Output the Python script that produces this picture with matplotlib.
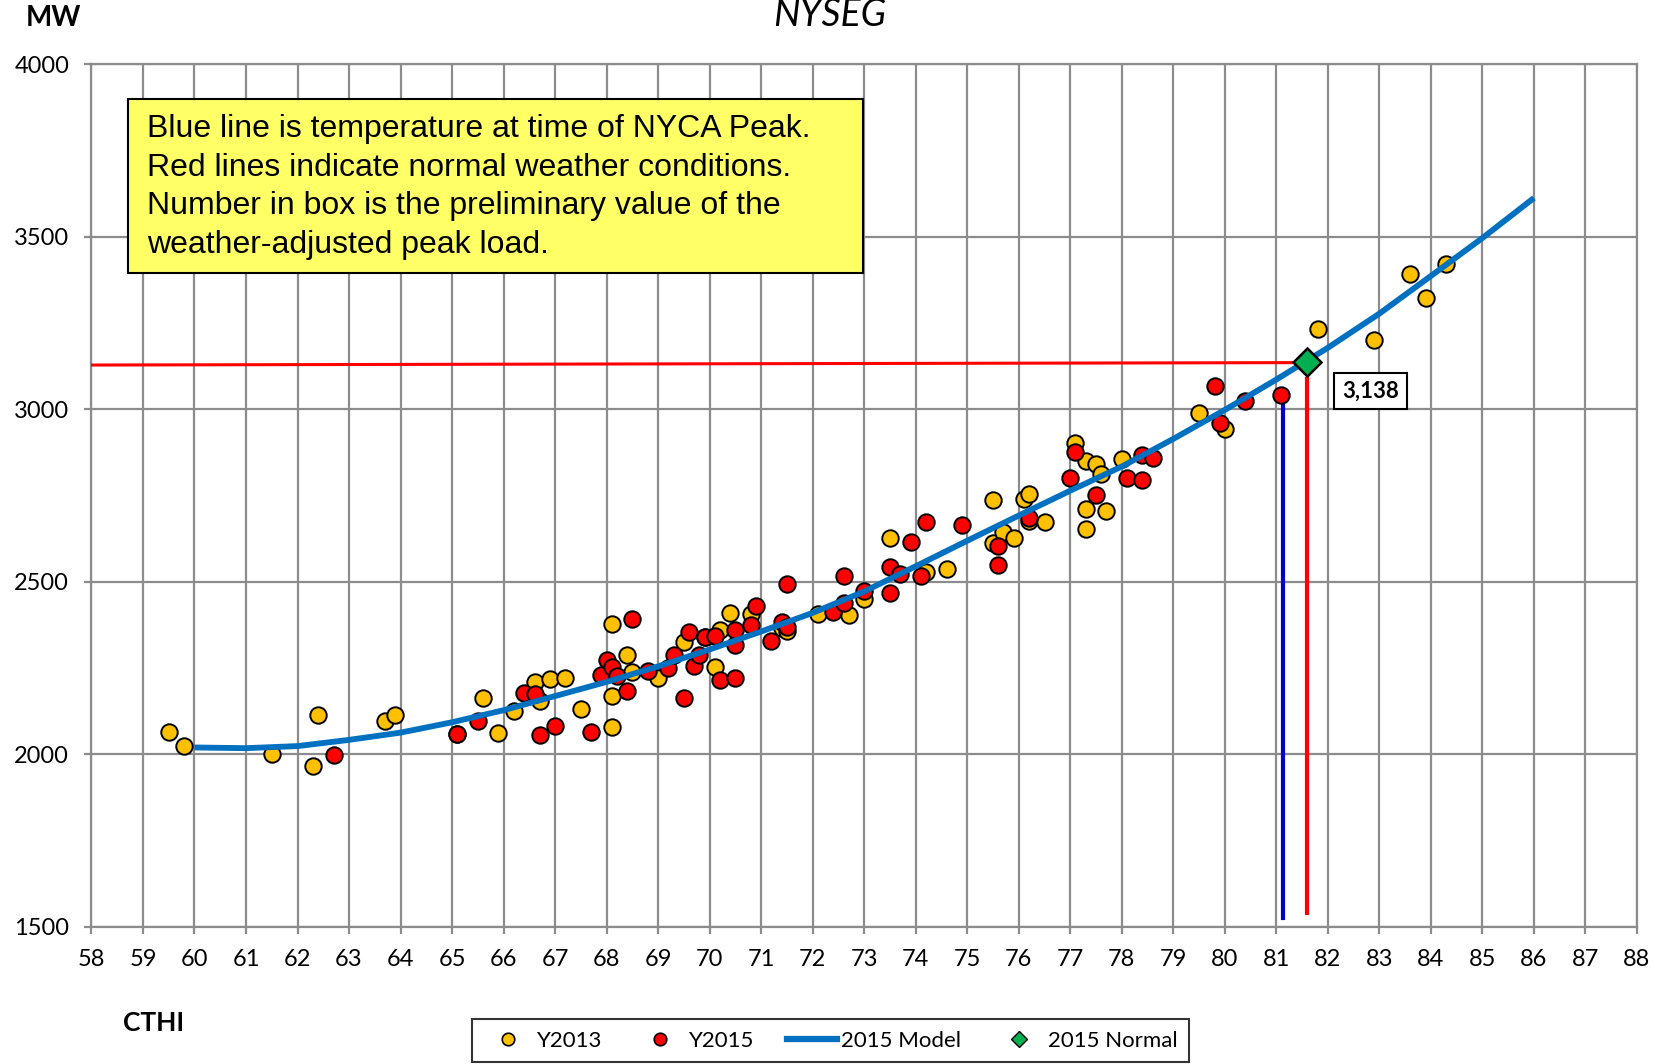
import matplotlib.pyplot as plt
from matplotlib.patches import Rectangle
from matplotlib.lines import Line2D

# --- DATA ---
y2013_cthi = [59.5, 59.8, 61.5, 62.4, 62.3, 63.7, 63.9, 65.1, 65.6, 65.9, 66.2, 66.6,
              66.9, 67.2, 66.7, 67.5, 68.1, 68.1, 68.1, 68.4, 68.5, 69.0, 69.5, 69.9,
              70.2, 70.1, 70.4, 70.8, 71.4, 71.5, 72.1, 72.7, 73.0, 73.5, 74.2, 74.6,
              75.5, 75.5, 75.7, 75.9, 76.1, 76.2, 76.2, 76.5, 77.1, 77.3, 77.5, 77.6,
              77.3, 77.3, 77.7, 78.0, 79.5, 80.0, 81.8, 82.9, 83.6, 83.9, 84.3]
y2013_mw = [2064, 2024, 2002, 2113, 1965, 2098, 2113, 2058, 2163, 2061, 2126, 2209,
            2218, 2221, 2156, 2132, 2078, 2378, 2169, 2289, 2240, 2221, 2326, 2341,
            2360, 2252, 2409, 2406, 2366, 2357, 2406, 2403, 2449, 2628, 2529, 2536,
            2736, 2613, 2643, 2628, 2739, 2754, 2677, 2674, 2902, 2850, 2841, 2813,
            2711, 2653, 2705, 2856, 2989, 2943, 3232, 3201, 3393, 3322, 3420]

y2015_cthi = [62.7, 65.1, 65.5, 66.4, 66.6, 66.7, 67.0, 67.7, 67.9, 68.0, 68.1, 68.2,
              68.4, 68.5, 68.8, 69.2, 69.3, 69.5, 69.6, 69.7, 69.8, 69.9, 70.1, 70.2,
              70.5, 70.5, 70.5, 70.8, 70.9, 71.2, 71.4, 71.5, 71.5, 72.4, 72.6, 72.6,
              73.0, 73.5, 73.5, 73.7, 73.9, 74.1, 74.2, 74.9, 75.6, 75.6, 76.2, 77.0,
              77.1, 77.5, 78.1, 78.4, 78.4, 78.6, 79.8, 79.9, 80.4, 81.1]
y2015_mw = [1999, 2058, 2098, 2178, 2175, 2055, 2083, 2064, 2230, 2274, 2252, 2227,
            2184, 2391, 2243, 2249, 2289, 2163, 2354, 2255, 2289, 2341, 2344, 2215,
            2317, 2360, 2221, 2375, 2431, 2329, 2384, 2495, 2369, 2412, 2517, 2440,
            2474, 2468, 2542, 2523, 2616, 2517, 2674, 2665, 2548, 2603, 2686, 2801,
            2875, 2751, 2801, 2868, 2794, 2859, 3066, 2961, 3023, 3041]

model_cthi = [60, 61, 62, 63, 64, 65, 66, 67, 68, 69, 70, 71, 72, 73,
              74, 75, 76, 77, 78, 79, 80, 81, 82, 83, 84, 85, 86]
model_mw = [2020, 2018, 2024, 2042, 2063, 2093, 2128, 2169, 2210, 2255, 2304, 2356, 2410, 2472,
            2545, 2619, 2692, 2764, 2834, 2914, 2998, 3086, 3178, 3277, 3386, 3496, 3612]

normal_cthi = 81.6
normal_mw = 3138
peak_cthi = 81.12      # temperature at time of NYCA peak
peak_mw = 3041

note_lines = ["Blue line is temperature at time of NYCA Peak.",
              "Red lines indicate normal weather conditions.",
              "Number in box is the preliminary value of the",
              "weather-adjusted peak load."]

# --- FIGURE ---
plt.rcParams['font.family'] = ['Lato', 'DejaVu Sans']
fig = plt.figure(figsize=(16.69, 10.64), dpi=100)
ax = fig.add_axes([0.0548, 0.1288, 0.926, 0.811])

ax.set_xlim(58, 88)
ax.set_ylim(1500, 4000)
ax.set_xticks(range(58, 89))
ax.set_yticks(range(1500, 4001, 500))
ax.grid(True, color='#8c8c8c', linewidth=1.6)
ax.set_axisbelow(True)
for s in ax.spines.values():
    s.set_color('#8c8c8c')
    s.set_linewidth(1.6)
ax.tick_params(axis='both', labelsize=17, color='#8c8c8c', length=5, width=1.6)
ax.tick_params(axis='x', pad=11)
ax.tick_params(axis='y', pad=11)

# red lines = normal weather conditions
ax.plot([58, normal_cthi - 0.15], [3128, normal_mw - 3], color='#ff0000', linewidth=2.2, zorder=4)
ax.plot([normal_cthi, normal_cthi], [3087, 1540], color='#ff0000', linewidth=3, zorder=4)
# blue line = temperature at NYCA peak
ax.plot([peak_cthi, peak_cthi], [peak_mw, 1527], color='#0000cc', linewidth=3, zorder=4)

ax.scatter(y2013_cthi, y2013_mw, s=140, color='#ffc000', edgecolor='black',
           linewidth=1.4, zorder=5, label='Y2013')
ax.scatter(y2015_cthi, y2015_mw, s=140, color='#ff0000', edgecolor='black',
           linewidth=1.4, zorder=5, label='Y2015')
ax.plot(model_cthi, model_mw, color='#0070c0', linewidth=4.2, zorder=6,
        solid_capstyle='butt', label='2015 Model')
ax.plot([normal_cthi], [normal_mw], marker='D', markersize=14, color='#00b050',
        markeredgecolor='black', markeredgewidth=1.8, linestyle='none', zorder=7,
        label='2015 Normal')

# value box
ax.text(82.83, 3053, '{:,}'.format(normal_mw), fontsize=16, fontweight='bold',
        ha='center', va='center', zorder=8,
        bbox=dict(boxstyle='square,pad=0.35', facecolor='white', edgecolor='black', linewidth=1.5))

# yellow note box
ax.add_patch(Rectangle((58.7, 3396), 14.28, 502, facecolor='#ffff66', edgecolor='black',
                       linewidth=1.5, zorder=8))
for i, line in enumerate(note_lines):
    ax.text(59.07, 3812 - i * 112, line, fontsize=23, family='Liberation Sans',
            ha='left', va='center', zorder=9)

# headings
fig.text(0.0318, 0.983, 'MW', fontsize=20, fontweight='bold', ha='center', va='center')
fig.text(0.497, 0.986, 'NYSEG', fontsize=27, fontstyle='italic', ha='center', va='center')
fig.text(0.0923, 0.0385, 'CTHI', fontsize=19, fontweight='bold', ha='center', va='center')

# legend at the bottom
handles = [
    Line2D([], [], marker='o', linestyle='none', markersize=9, markerfacecolor='#ffc000',
           markeredgecolor='black', markeredgewidth=1.2),
    Line2D([], [], marker='o', linestyle='none', markersize=9, markerfacecolor='#ff0000',
           markeredgecolor='black', markeredgewidth=1.2),
    Line2D([], [], color='#0070c0', linewidth=4.5),
    Line2D([], [], marker='D', linestyle='none', markersize=8, markerfacecolor='#00b050',
           markeredgecolor='black', markeredgewidth=1),
]
leg = fig.legend(handles, ['Y2013', 'Y2015', '2015 Model', '2015 Normal'], ncol=4,
                 loc='center', bbox_to_anchor=(0.4975, 0.022), fontsize=16,
                 frameon=True, fancybox=False, edgecolor='black', handlelength=2.25,
                 handletextpad=0.2, columnspacing=1.45, borderpad=0.5, borderaxespad=0)
leg.get_frame().set_linewidth(1.5)

plt.savefig("out.png", dpi=100)
plt.close()
